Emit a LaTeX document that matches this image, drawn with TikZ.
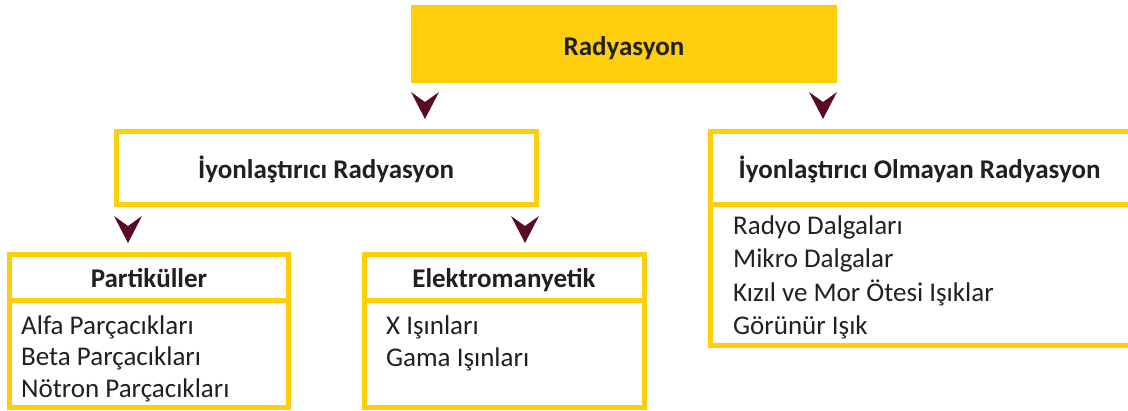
\documentclass[tikz,border=0pt]{standalone}
\usepackage{fontspec}
\setmainfont{Carlito}
\definecolor{ybox}{HTML}{FCCE0C}
\definecolor{darr}{HTML}{5A0B23}
\definecolor{ink}{HTML}{231F20}
\tikzset{
  fillbox/.style={fill=ybox, draw=none, inner sep=0pt, outer sep=0pt},
  framebox/.style={draw=ybox, line width=5pt, inner sep=0pt, outer sep=0pt, fill=white},
  divider/.style={draw=ybox, line width=5pt},
  headtxt/.style={font=\fontsize{27}{32}\selectfont\bfseries, text=ink, inner sep=0pt, anchor=base},
  itemtxt/.style={font=\fontsize{27}{32}\selectfont, text=ink, inner sep=0pt, anchor=base west},
  tiphead/.style={fill=darr, draw=none}
}
\begin{document}
\begin{tikzpicture}[x=1pt,y=-1pt]
\useasboundingbox (0,0) rectangle (1128,410);
% boxes
\node[fillbox, minimum width=426pt, minimum height=78pt] (rad) at (624,44) {};
\node[framebox, minimum width=420pt, minimum height=73pt] (ion) at (326.5,168) {};
\node[framebox, minimum width=279pt, minimum height=153pt] (part) at (149,331) {};
\node[framebox, minimum width=280pt, minimum height=153pt] (elek) at (504,331) {};
\node[framebox, minimum width=420pt, minimum height=214pt] (non) at (920.5,238.5) {};
% dividers
\draw[divider] (9.5,300.5) -- (288.5,300.5);
\draw[divider] (364,300.5) -- (644,300.5);
\draw[divider] (710.5,204.5) -- (1130.5,204.5);
% titles
\node[headtxt] (tRad) at (624,55) {Radyasyon};
\node[headtxt] (tIon) at (326,178) {İyonlaştırıcı Radyasyon};
\node[headtxt] (tPart) at (149,287) {Partiküller};
\node[headtxt] (tElek) at (504,287) {Elektromanyetik};
\node[headtxt] (tNon) at (919.5,178) {İyonlaştırıcı Olmayan Radyasyon};
% items
\node[itemtxt] (p1) at (21,334) {Alfa Parçacıkları};
\node[itemtxt] (p2) at (21,365.5) {Beta Parçacıkları};
\node[itemtxt] (p3) at (21,397) {Nötron Parçacıkları};
\node[itemtxt] (e1) at (386,334) {X Işınları};
\node[itemtxt] (e2) at (386,366) {Gama Işınları};
\node[itemtxt] (n1) at (733,234) {Radyo Dalgaları};
\node[itemtxt] (n2) at (733,267.5) {Mikro Dalgalar};
\node[itemtxt] (n3) at (733,301.5) {Kızıl ve Mor Ötesi Işıklar};
\node[itemtxt] (n4) at (733,334) {Görünür Işık};
% arrow heads (tip points)
\coordinate (a1) at ([xshift=14pt,yshift=-36pt]rad.south west);
\coordinate (a2) at ([xshift=-14pt,yshift=-36pt]rad.south east);
\coordinate (a3) at ([xshift=11.5pt,yshift=-38.5pt]ion.south west);
\coordinate (a4) at ([xshift=-11.5pt,yshift=-38.5pt]ion.south east);
\foreach \t in {a1,a2,a3,a4}{
  \fill[tiphead] (\t) -- ++(-14,-27) -- ++(14,10) -- ++(14,-10) -- cycle;
}
\end{tikzpicture}
\end{document}
